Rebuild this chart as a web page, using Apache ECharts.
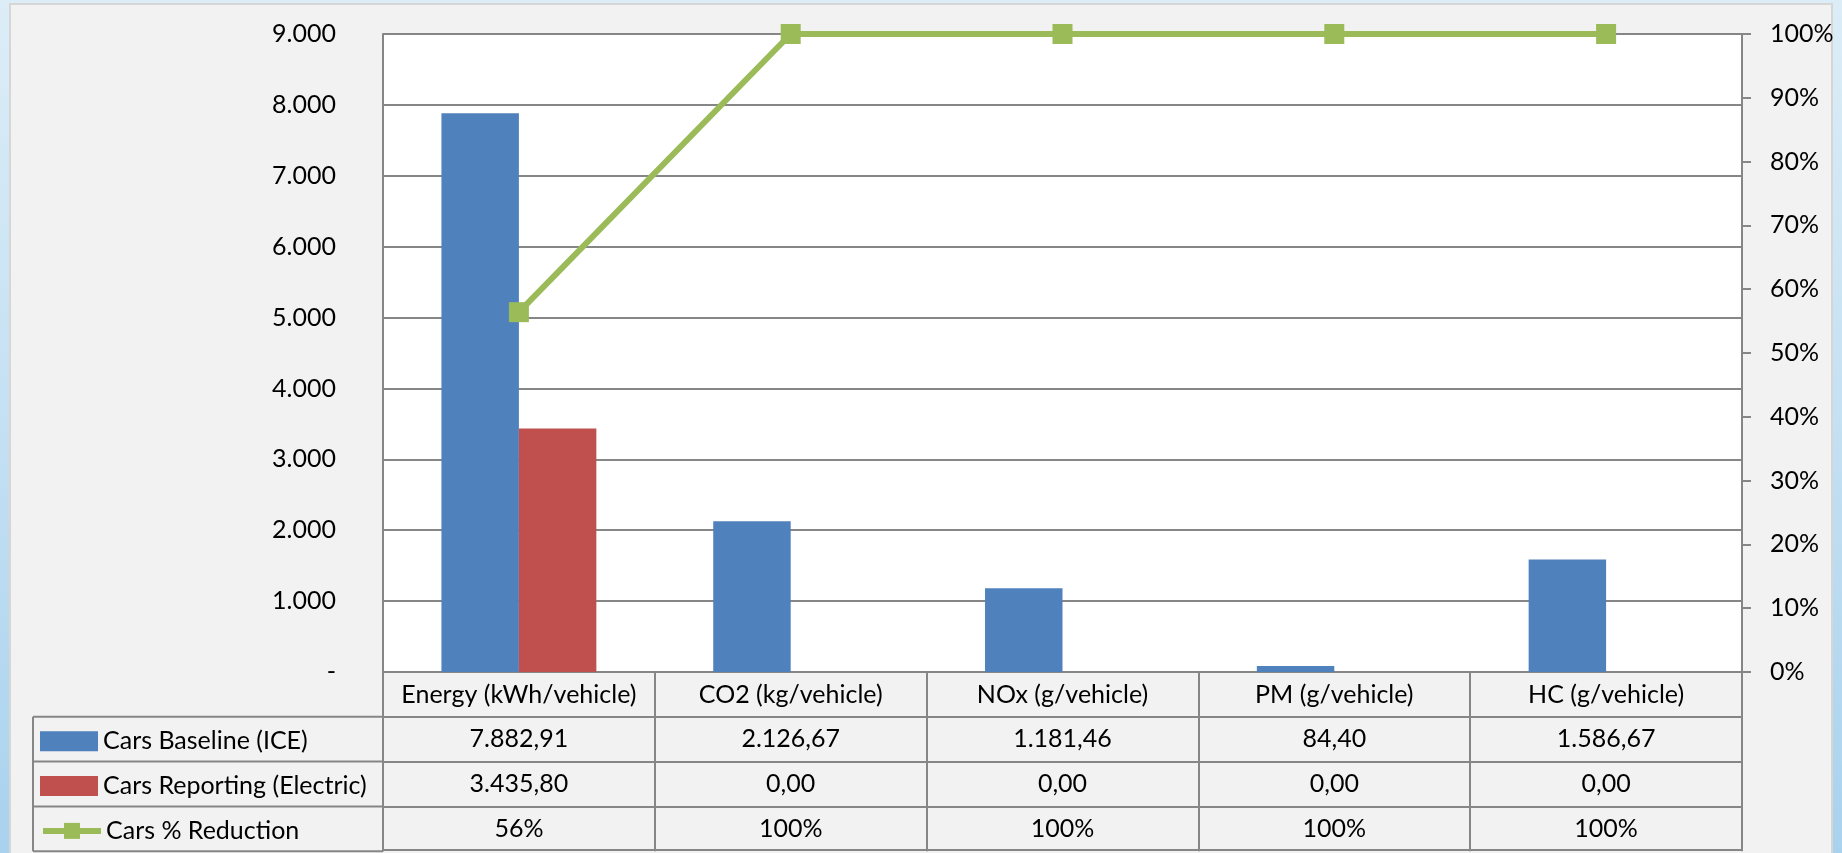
<!DOCTYPE html>
<html>
<head>
<meta charset="utf-8">
<script src="https://cdn.jsdelivr.net/npm/echarts@6/dist/echarts.min.js"></script>
<style>
  html, body { margin: 0; padding: 0; width: 1842px; height: 853px; overflow: hidden;
    background: linear-gradient(to bottom, #dcedf7 0%, #c4e0f3 50%, #a9d2ee 100%); }
  #panel { position: absolute; left: 9px; top: 3px; width: 1824px; height: 870px;
    background: #f2f2f2; border: 2px solid #d6d6d6; box-sizing: border-box; }
  #chart { position: absolute; left: 0; top: 0; width: 1842px; height: 853px; }
</style>
</head>
<body>
<div id="panel"></div>
<div id="chart"></div>
<script>
// ---- data ----
const categories = ['Energy (kWh/vehicle)', 'CO2 (kg/vehicle)', 'NOx (g/vehicle)', 'PM (g/vehicle)', 'HC (g/vehicle)'];
const baselineName = 'Cars Baseline (ICE)';
const reportingName = 'Cars Reporting (Electric)';
const reductionName = 'Cars % Reduction';
const baseline = [7882.91, 2126.67, 1181.46, 84.40, 1586.67];
const reporting = [3435.80, 0, 0, 0, 0];
const reduction = [0.564, 1, 1, 1, 1];

// ---- helpers ----
function fmtNum(v) {
  const parts = v.toFixed(2).split('.');
  return parts[0].replace(/\B(?=(\d{3})+(?!\d))/g, '.') + ',' + parts[1];
}
function fmtThousands(v) {
  if (v === 0) return '-';
  return String(Math.round(v)).replace(/\B(?=(\d{3})+(?!\d))/g, '.');
}
function fmtPct(v) { return Math.round(v * 100) + '%'; }

const FONT = 'Lato';
const FS = 25;
const GRAY = '#868686';
const GREEN = '#9bbb59';
const GRID_LEFT = 383, GRID_RIGHT_X = 1742, GRID_TOP = 34, GRID_BOTTOM_Y = 672;
const ROW_H = 44.8;
const TABLE_LEFT = 33;

const rowFormatters = [
  (v, i) => fmtNum(baseline[i]),
  (v, i) => fmtNum(reporting[i]),
  (v, i) => fmtPct(reduction[i])
];

const xAxes = [];
xAxes.push({
  type: 'category', data: categories, gridIndex: 0, position: 'bottom',
  axisLine: { show: true, onZero: false, lineStyle: { color: GRAY, width: 2 } },
  axisTick: { show: true, interval: 0, alignWithLabel: false, length: ROW_H, lineStyle: { color: GRAY, width: 2 } },
  axisLabel: { interval: 0, margin: 10, fontFamily: FONT, fontSize: FS, color: '#000' }
});
rowFormatters.forEach((f, k) => {
  xAxes.push({
    type: 'category', data: categories, gridIndex: 0, position: 'bottom', offset: ROW_H * (k + 1),
    axisLine: { show: true, onZero: false, lineStyle: { color: GRAY, width: 2 } },
    axisTick: { show: true, interval: 0, alignWithLabel: false, length: ROW_H, lineStyle: { color: GRAY, width: 2 } },
    axisLabel: { interval: 0, margin: 10, fontFamily: FONT, fontSize: FS, color: '#000', formatter: f }
  });
});
xAxes.push({
  type: 'category', data: categories, gridIndex: 0, position: 'bottom', offset: ROW_H * 4 - 1,
  axisLine: { show: true, onZero: false, lineStyle: { color: GRAY, width: 2 } },
  axisTick: { show: false }, axisLabel: { show: false }
});

// left column border lines of the data table
const rowYs = [1, 2, 3, 4].map(k => GRID_BOTTOM_Y + ROW_H * k);
const tableLines = rowYs.map(y => ({
  type: 'line', shape: { x1: TABLE_LEFT, y1: y, x2: GRID_LEFT, y2: y },
  style: { stroke: GRAY, lineWidth: 2 }
}));
tableLines.push({
  type: 'line', shape: { x1: TABLE_LEFT, y1: rowYs[0], x2: TABLE_LEFT, y2: rowYs[3] },
  style: { stroke: GRAY, lineWidth: 2 }
});
tableLines.push({
  type: 'line', shape: { x1: GRID_LEFT, y1: GRID_BOTTOM_Y, x2: GRID_LEFT, y2: rowYs[3] },
  style: { stroke: GRAY, lineWidth: 2 }
});

const legendNames = [baselineName, reportingName, reductionName];
const legends = legendNames.map((name, k) => ({
  orient: 'horizontal', left: 40, top: GRID_BOTTOM_Y + ROW_H * (k + 1) + 12, padding: 0,
  itemWidth: 58, itemHeight: 20, itemGap: 0,
  textStyle: { fontFamily: FONT, fontSize: FS, color: '#000' },
  lineStyle: { width: 6, color: GREEN },
  data: [k < 2 ? { name: name, icon: 'rect' } : { name: name }]
}));

const chart = echarts.init(document.getElementById('chart'), null, { renderer: 'canvas' });
chart.setOption({
  animation: false,
  backgroundColor: 'transparent',
  textStyle: { fontFamily: FONT },
  grid: {
    left: GRID_LEFT, top: GRID_TOP, right: 1842 - GRID_RIGHT_X, bottom: 853 - GRID_BOTTOM_Y,
    show: true, backgroundColor: '#ffffff', borderWidth: 0
  },
  legend: legends,
  xAxis: xAxes,
  yAxis: [
    {
      type: 'value', min: 0, max: 9000, interval: 1000, position: 'left',
      axisLine: { show: true, lineStyle: { color: GRAY, width: 2 } },
      axisTick: { show: false },
      splitLine: { show: true, lineStyle: { color: GRAY, width: 2 } },
      axisLabel: { margin: 47, fontFamily: FONT, fontSize: FS, color: '#000', formatter: fmtThousands }
    },
    {
      type: 'value', min: 0, max: 1, interval: 0.1, position: 'right',
      axisLine: { show: true, lineStyle: { color: GRAY, width: 2 } },
      axisTick: { show: true, length: 9, lineStyle: { color: GRAY, width: 2 } },
      splitLine: { show: false },
      axisLabel: { margin: 28, fontFamily: FONT, fontSize: FS, color: '#000', formatter: fmtPct }
    }
  ],
  series: [
    {
      name: baselineName, type: 'bar', data: baseline, xAxisIndex: 0, yAxisIndex: 0,
      barGap: '0%', barCategoryGap: '43%', itemStyle: { color: '#4f81bd' }
    },
    {
      name: reportingName, type: 'bar', data: reporting, xAxisIndex: 0, yAxisIndex: 0,
      barGap: '0%', barCategoryGap: '43%', itemStyle: { color: '#c0504d' }
    },
    {
      name: reductionName, type: 'line', data: reduction, xAxisIndex: 0, yAxisIndex: 1,
      symbol: 'rect', symbolSize: 20, showSymbol: true,
      lineStyle: { color: GREEN, width: 6 }, itemStyle: { color: GREEN }, z: 5
    }
  ],
  graphic: tableLines
});
</script>
</body>
</html>
